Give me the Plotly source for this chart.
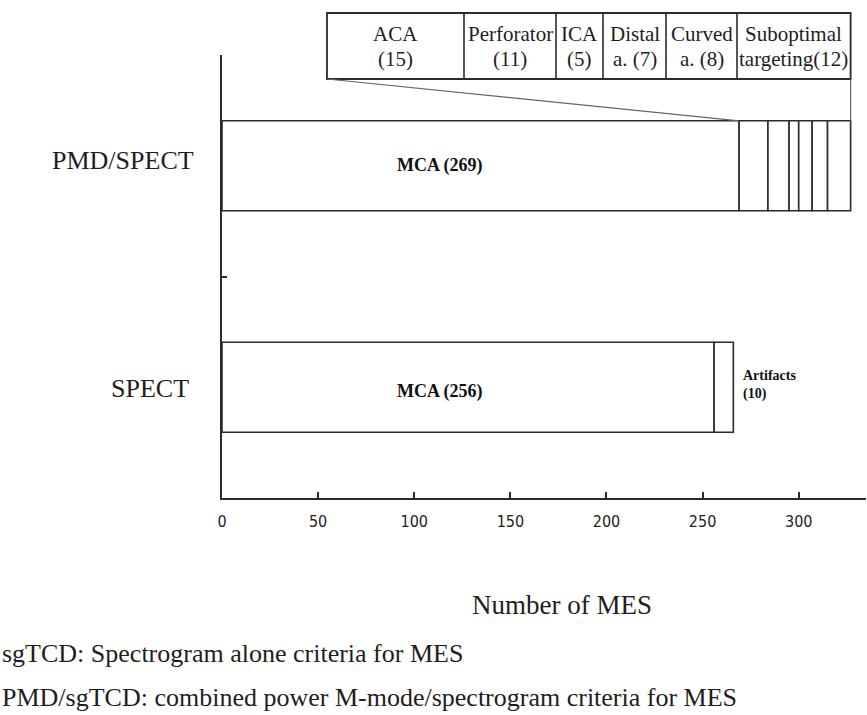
import plotly.graph_objects as go

# ---- data -------------------------------------------------------------
groups = ["SPECT", "PMD/SPECT"]

# PMD/SPECT breakdown
pmd_labels = ["MCA", "ACA", "Perforator", "ICA", "Distal a.", "Curved a.", "Suboptimal targeting"]
pmd_values = [269, 15, 11, 5, 7, 8, 12]

# SPECT breakdown
spect_labels = ["MCA", "Artifacts"]
spect_values = [256, 10]

# header cells of the breakdown table: (line 1, line 2)
table_line1 = ["ACA", "Perforator", "ICA", "Distal", "Curved", "Suboptimal"]
table_line2 = ["(15)", "(11)", "(5)", "a. (7)", "a. (8)", "targeting(12)"]

x_ticks = [0, 50, 100, 150, 200, 250, 300]

# ---- geometry ---------------------------------------------------------
W, H = 867, 715
ML, MR, MT, MB = 222, 1, 55, 217
XMAX = 335
BAR_W = 0.406
PW = W - ML - MR
PH = H - MT - MB

def px_x(px):
    return (px - ML) / PW

def px_y(py):
    return 1 - (py - MT) / PH

LINE = "#2b2b2b"
SERIF = "Liberation Serif"
TXT = "#1e1e1e"

fig = go.Figure()

def add_stack(y, values, names):
    base = 0
    for v, n in zip(values, names):
        fig.add_trace(go.Bar(
            x=[v], y=[y], base=[base], orientation="h", width=BAR_W,
            name=n, showlegend=False,
            marker=dict(color="white", line=dict(color=LINE, width=1.6)),
            hoverinfo="name+x",
        ))
        base += v

add_stack(1, pmd_values, pmd_labels)
add_stack(0, spect_values, spect_labels)

# ---- breakdown table above the PMD/SPECT bar -------------------------
box_top, box_bot = 13, 79
box_left = 327
total_pmd = sum(pmd_values)
box_right_p = total_pmd / XMAX
cell_edges_px = [box_left, 464, 556, 603, 666, 737]
edges_p = [px_x(e) for e in cell_edges_px] + [box_right_p]

shapes = []
shapes.append(dict(type="rect", xref="paper", yref="paper",
                   x0=edges_p[0], x1=edges_p[-1], y0=px_y(box_bot), y1=px_y(box_top),
                   line=dict(color=LINE, width=1.8), fillcolor="rgba(0,0,0,0)"))
for e in edges_p[1:-1]:
    shapes.append(dict(type="line", xref="paper", yref="paper",
                       x0=e, x1=e, y0=px_y(box_bot), y1=px_y(box_top),
                       line=dict(color=LINE, width=1.6)))

bar_top_p = (1 + BAR_W / 2 + 0.5) / 2.0
# connectors from the table to the bar
shapes.append(dict(type="line", xref="paper", yref="paper",
                   x0=edges_p[0], y0=px_y(box_bot), x1=pmd_values[0] / XMAX, y1=bar_top_p,
                   line=dict(color="#666", width=1.2)))
shapes.append(dict(type="line", xref="paper", yref="paper",
                   x0=box_right_p, y0=px_y(box_bot), x1=box_right_p, y1=bar_top_p,
                   line=dict(color="#666", width=1.2)))

annotations = []
for i, (l1, l2) in enumerate(zip(table_line1, table_line2)):
    cx = (edges_p[i] + edges_p[i + 1]) / 2
    annotations.append(dict(xref="paper", yref="paper", x=cx, y=px_y(34), text=l1,
                            showarrow=False, font=dict(family=SERIF, size=21, color=TXT),
                            xanchor="center", yanchor="middle"))
    annotations.append(dict(xref="paper", yref="paper", x=cx, y=px_y(59), text=l2,
                            showarrow=False, font=dict(family=SERIF, size=21, color=TXT),
                            xanchor="center", yanchor="middle"))

# ---- in-bar labels ----------------------------------------------------
annotations.append(dict(x=113, y=1, xref="x", yref="y", text=f"<b>MCA ({pmd_values[0]})</b>",
                        showarrow=False, font=dict(family=SERIF, size=18, color="#111")))
annotations.append(dict(x=113, y=-0.02, xref="x", yref="y", text=f"<b>MCA ({spect_values[0]})</b>",
                        showarrow=False, font=dict(family=SERIF, size=18, color="#111")))
annotations.append(dict(x=sum(spect_values) + 4, y=0.01, xref="x", yref="y",
                        text=f"<b>Artifacts<br>({spect_values[1]})</b>", align="left",
                        showarrow=False, xanchor="left", yanchor="middle",
                        font=dict(family=SERIF, size=14, color="#111")))

# ---- category labels --------------------------------------------------
annotations.append(dict(xref="paper", yref="paper", x=px_x(196), y=px_y(160), text=groups[1],
                        showarrow=False, xanchor="right", yanchor="middle",
                        font=dict(family=SERIF, size=26, color=TXT)))
annotations.append(dict(xref="paper", yref="paper", x=px_x(191), y=px_y(388), text=groups[0],
                        showarrow=False, xanchor="right", yanchor="middle",
                        font=dict(family=SERIF, size=26, color=TXT)))

# ---- axis title and footnotes -----------------------------------------
annotations.append(dict(xref="paper", yref="paper", x=px_x(562), y=px_y(605), text="Number of MES",
                        showarrow=False, xanchor="center", yanchor="middle",
                        font=dict(family=SERIF, size=27, color=TXT)))
annotations.append(dict(xref="paper", yref="paper", x=px_x(0), y=px_y(653),
                        text="sgTCD: Spectrogram alone criteria for MES",
                        showarrow=False, xanchor="left", yanchor="middle",
                        font=dict(family=SERIF, size=26, color=TXT)))
annotations.append(dict(xref="paper", yref="paper", x=px_x(0), y=px_y(697),
                        text="PMD/sgTCD: combined power M-mode/spectrogram criteria for MES",
                        showarrow=False, xanchor="left", yanchor="middle",
                        font=dict(family=SERIF, size=26, color=TXT)))

fig.update_layout(
    width=W, height=H,
    margin=dict(l=ML, r=MR, t=MT, b=MB),
    paper_bgcolor="white", plot_bgcolor="white",
    barmode="overlay",
    shapes=shapes, annotations=annotations,
    xaxis=dict(range=[0, XMAX], tickvals=x_ticks, ticks="inside", ticklen=6,
               tickcolor=LINE, tickwidth=1.5, showline=True, linecolor=LINE, linewidth=1.6,
               showgrid=False, zeroline=False, ticklabelstandoff=8,
               tickfont=dict(family="DejaVu Sans Condensed", size=16, color="#222")),
    yaxis=dict(range=[-0.5, 1.5], tickvals=[0.5, 1.5], ticks="inside", ticklen=5,
               tickcolor=LINE, tickwidth=1.5, showticklabels=False, showline=True,
               linecolor=LINE, linewidth=1.6, showgrid=False, zeroline=False),
)

fig.write_html("out.html")
